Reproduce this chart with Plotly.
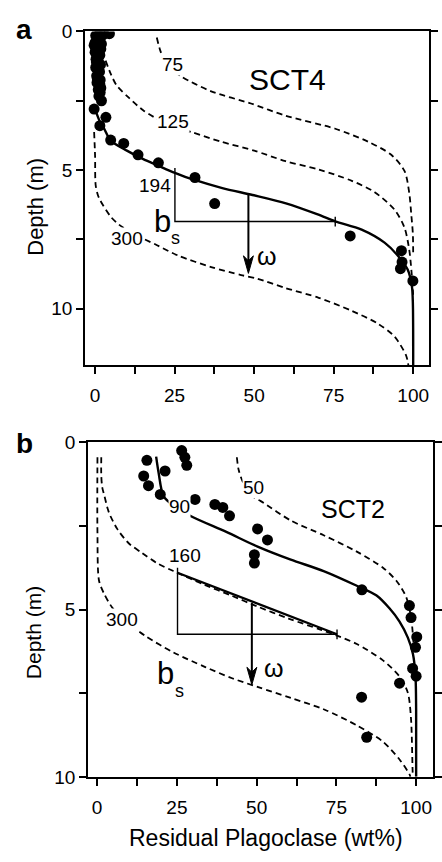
import plotly.graph_objects as go

W, H = 442, 862
FONT = "Liberation Sans, Arial, Helvetica, sans-serif"

# ---------------- Panel a : SCT4 ----------------
a_meas_plag = [1.5, 4.5, 2.8, 0.2, 1.8, 0.8, 0.0, 2.0, -0.3, 1.8, 0.6, 0.0, 1.5, 0.3, 1.0, 0.4,
               1.7, 1.2, 0.2, 1.4, 0.9, 0.5, 0.7, 1.6, 1.5, 0.6, 1.8, 1.0, 1.6, 1.2, 2.0,
               -0.3, 3.4, 1.5, 4.9, 9.0, 13.5, 19.9, 31.4, 37.6, 80.2, 96.3, 96.5, 96.0, 99.9]
a_meas_depth = [0.05, 0.08, 0.1, 0.15, 0.2, 0.3, 0.4, 0.45, 0.5, 0.63, 0.6, 0.75, 0.85, 1.0, 0.95,
                1.1, 1.2, 1.15, 1.3, 1.45, 1.34, 1.6, 1.7, 1.75, 1.9, 1.85, 2.04, 2.1, 2.2, 2.33, 2.5,
                2.8, 3.1, 3.4, 3.92, 4.04, 4.45, 4.74, 5.27, 6.21, 7.38, 7.91, 8.32, 8.56, 9.0]

# best-fit profile (omega = 194)
a_w194_plag = [0.3, 1.5, 2.8, 5.0, 10.0, 15.0, 20.0, 25.1, 31.0, 40.0, 49.5, 60.0, 70.0, 75.5,
               83.8, 91.0, 95.2, 98.3, 99.6, 99.9, 100.0]
a_w194_depth = [2.9, 3.25, 3.5, 3.95, 4.3, 4.6, 4.85, 5.1, 5.35, 5.65, 5.9, 6.2, 6.6, 6.85,
                7.15, 7.62, 8.09, 8.6, 9.2, 9.8, 12.05]
# reference profiles
a_w75_plag = [19.4, 20.5, 22.5, 27.2, 36.5, 49.0, 59.9, 75.5, 85.9, 93.1, 97.3, 98.8, 99.4, 99.9, 100.0]
a_w75_depth = [0.22, 0.69, 1.2, 1.63, 2.16, 2.6, 3.04, 3.51, 3.98, 4.45, 5.04, 5.86, 6.6, 7.3, 8.0]
a_w125_plag = [3.3, 5.0, 6.8, 10.6, 15.3, 22.0, 30.3, 39.7, 50.0, 59.9, 70.3, 80.7, 87.9, 94.2,
               97.3, 98.8, 99.5, 100.0]
a_w125_depth = [1.05, 1.55, 1.95, 2.39, 2.86, 3.3, 3.63, 3.98, 4.3, 4.68, 4.98, 5.39, 5.8, 6.44,
                7.09, 7.91, 8.7, 9.5]
a_w300_plag = [-0.3, 0.0, 0.2, 1.2, 4.9, 7.5, 12.0, 18.9, 26.2, 36.5, 45.9, 51.0, 59.9, 70.3,
               80.7, 89.0, 94.2, 97.8, 98.5]
a_w300_depth = [3.63, 4.5, 5.56, 6.0, 6.68, 6.97, 7.3, 7.68, 8.09, 8.5, 8.79, 8.92, 9.26, 9.61,
                10.08, 10.55, 11.02, 11.7, 12.05]

# ---------------- Panel b : SCT2 ----------------
b_meas_plag = [15.6, 14.6, 16.1, 21.3, 19.8, 26.5, 27.5, 28.1, 30.7, 36.9, 39.4, 41.5, 50.3,
               53.4, 49.3, 49.3, 83.0, 97.9, 98.4, 100.2, 99.8, 98.9, 100.0, 94.8, 82.9, 84.5]
b_meas_depth = [0.54, 1.01, 1.30, 0.86, 1.56, 0.25, 0.45, 0.69, 1.71, 1.86, 1.95, 2.2, 2.59,
                2.92, 3.36, 3.61, 4.41, 4.88, 5.24, 5.82, 6.13, 6.76, 6.99, 7.2, 7.62, 8.82]

b_w90_plag = [18.5, 19.3, 20.8, 24.0, 29.6, 40.5, 50.3, 60.7, 71.0, 81.4, 87.6, 91.7, 94.8,
              97.4, 99.0, 99.8, 100.0, 100.0]
b_w90_depth = [0.43, 0.93, 1.61, 1.9, 2.22, 2.68, 3.12, 3.51, 3.85, 4.29, 4.58, 4.97, 5.36,
               5.84, 6.33, 7.0, 8.0, 10.0]
b_w50_plag = [43.8, 44.4, 46.0, 49.3, 51.3, 60.7, 71.0, 81.4, 89.6, 93.8, 96.9, 98.5, 99.3]
b_w50_depth = [0.45, 0.84, 1.25, 1.66, 1.76, 2.34, 2.78, 3.27, 3.75, 4.14, 4.63, 5.3, 6.2]
b_w160_plag = [1.3, 1.3, 1.6, 2.2, 3.7, 6.3, 9.9, 14.1, 18.7, 23.9, 33.7, 42.0, 50.0, 60.0, 70.0,
               75.2, 81.4, 89.6, 94.8, 97.4, 98.4, 98.9, 99.0]
b_w160_depth = [0.45, 1.0, 1.35, 1.57, 2.1, 2.59, 3.02, 3.31, 3.61, 3.85, 4.26, 4.58, 4.9, 5.27,
                5.6, 5.78, 6.03, 6.52, 7.0, 7.49, 8.27, 9.83, 10.0]
b_w300_plag = [0.1, 0.1, 0.6, 2.2, 4.8, 9.0, 15.1, 23.9, 33.9, 42.5, 50.5, 60.7, 71.0, 81.4,
               89.6, 94.8, 97.9, 98.2]
b_w300_depth = [0.45, 2.68, 4.14, 4.53, 4.95, 5.35, 5.79, 6.28, 6.72, 7.06, 7.32, 7.64, 7.98,
                8.46, 8.95, 9.48, 9.92, 10.0]

# axis ticks
x_tickvals = [0, 12.5, 25, 37.5, 50, 62.5, 75, 87.5, 100]
x_ticktext = ["0", "", "25", "", "50", "", "75", "", "100"]
y_tickvals = [0, 2.5, 5, 7.5, 10]
y_ticktext = ["0", "", "5", "", "10"]

# panel frames in pixels (left, right, top, bottom) and data ranges
PANELS = {
    "a": dict(px=(86, 433, 22, 364), xrange=[-3.1, 105.0], yrange=[12.04, 0], xa="x", ya="y"),
    "b": dict(px=(89, 437, 443, 786), xrange=[-2.8, 105.3], yrange=[10.0, 0], xa="x2", ya="y2"),
}

# b_s triangle: (plag at top corner, depth at top corner, plag at right corner, depth of base)
a_bs = (25.1, 5.1, 75.5, 6.86)
b_bs = (25.2, 3.9, 75.2, 5.74)
# omega arrow: (plag, depth start, depth tip)
a_omega = (48.2, 5.88, 8.73)
b_omega = (48.5, 4.80, 7.25)


def scale(p):
    x0, x1, y0, y1 = PANELS[p]["px"]
    xr, yr = PANELS[p]["xrange"], PANELS[p]["yrange"]
    return (x1 - x0) / (xr[1] - xr[0]), (y1 - y0) / abs(yr[0] - yr[1])


fig = go.Figure()


def add_line(p, xs, ys, dash=None, width=2.4):
    fig.add_trace(go.Scatter(
        x=xs, y=ys, mode="lines", xaxis=PANELS[p]["xa"], yaxis=PANELS[p]["ya"],
        line=dict(color="black", width=width, dash=dash, shape="spline", smoothing=0.8),
        hoverinfo="skip", showlegend=False))


def add_poly(p, xs, ys, width=1.4, fill=False):
    fig.add_trace(go.Scatter(
        x=xs, y=ys, mode="lines", xaxis=PANELS[p]["xa"], yaxis=PANELS[p]["ya"],
        line=dict(color="black", width=width),
        fill="toself" if fill else None, fillcolor="black",
        hoverinfo="skip", showlegend=False))


def add_points(p, xs, ys):
    fig.add_trace(go.Scatter(
        x=xs, y=ys, mode="markers", xaxis=PANELS[p]["xa"], yaxis=PANELS[p]["ya"],
        marker=dict(color="black", size=11, line=dict(width=0)),
        hoverinfo="skip", showlegend=False))


DASH = "6px,4px"
# panel a curves
add_line("a", a_w75_plag, a_w75_depth, DASH, 1.8)
add_line("a", a_w125_plag, a_w125_depth, DASH, 1.8)
add_line("a", a_w300_plag, a_w300_depth, DASH, 1.8)
add_line("a", a_w194_plag, a_w194_depth, None, 2.4)
# panel b curves
add_line("b", b_w50_plag, b_w50_depth, DASH, 1.8)
add_line("b", b_w160_plag, b_w160_depth, DASH, 1.8)
add_line("b", b_w300_plag, b_w300_depth, DASH, 1.8)
add_line("b", b_w90_plag, b_w90_depth, None, 2.4)


def add_bs(p, tri, hyp=False):
    v0, d0, v1, d1 = tri
    sx, sy = scale(p)
    t = 5 / sy
    add_poly(p, [v0, v0, v1], [d0 - t, d1, d1], width=1.4)
    add_poly(p, [v1, v1], [d1 - t, d1 + t], width=1.4)
    if hyp:
        add_poly(p, [v0, v1], [d0, d1], width=2.2)


def add_arrow(p, arr):
    v, ds, dt = arr
    sx, sy = scale(p)
    L, hw = 18 / sy, 5 / sx
    add_poly(p, [v, v], [ds, dt - 0.7 * L], width=2.0)
    add_poly(p, [v, v - hw, v, v + hw, v], [dt, dt - L, dt - 0.72 * L, dt - L, dt], width=1, fill=True)


add_bs("a", a_bs)
add_bs("b", b_bs, hyp=True)
add_arrow("a", a_omega)
add_arrow("b", b_omega)

add_points("a", a_meas_plag, a_meas_depth)
add_points("b", b_meas_plag, b_meas_depth)


def axis_common():
    return dict(showline=True, linecolor="black", linewidth=2, ticks="outside",
                ticklen=7, tickwidth=1.5, tickcolor="black", showgrid=False, zeroline=False,
                tickfont=dict(family=FONT, size=19, color="black"))


layout_axes = {}
for key, p in (("", "a"), ("2", "b")):
    x0, x1, y0, y1 = PANELS[p]["px"]
    layout_axes["xaxis" + key] = dict(
        domain=[x0 / W, x1 / W], range=PANELS[p]["xrange"], anchor="y" + key,
        tickvals=x_tickvals, ticktext=x_ticktext, mirror=True, ticklabelstandoff=5,
        **axis_common())
    layout_axes["yaxis" + key] = dict(
        domain=[1 - y1 / H, 1 - y0 / H], range=PANELS[p]["yrange"], anchor="x" + key,
        tickvals=y_tickvals, ticktext=y_ticktext, mirror="ticks", **axis_common())

ann = []


def label(p, text, v, d, size=19, bg="white", **kw):
    ann.append(dict(text=text, x=v, y=d, xref=PANELS[p]["xa"], yref=PANELS[p]["ya"],
                    showarrow=False, font=dict(family=FONT, size=size, color="black"),
                    bgcolor=bg, borderpad=0, xanchor="center", yanchor="middle", **kw))


def paper_text(text, px, py, size, **kw):
    ann.append(dict(text=text, x=px / W, y=1 - py / H, xref="paper", yref="paper",
                    showarrow=False, xanchor="center", yanchor="middle",
                    font=dict(family=FONT, size=size, color="black"), **kw))


# panel a labels
label("a", "75", 24.3, 1.2)
label("a", "125", 24.5, 3.24)
label("a", "194", 18.7, 5.56)
label("a", "300", 10.1, 7.48)
label("a", "SCT4", 60.5, 1.74, size=30, bg=None)
label("a", "b", 21.3, 6.85, size=31, bg=None)
label("a", "s", 25.4, 7.45, size=18, bg=None)
label("a", "\u03c9", 53.9, 8.12, size=25, bg=None)
# panel b labels
label("b", "50", 49.1, 1.36)
label("b", "90", 25.9, 1.91)
label("b", "160", 27.6, 3.4)
label("b", "300", 7.9, 5.31)
label("b", "SCT2", 80.3, 2.0, size=25, bg=None)
label("b", "b", 21.3, 6.91, size=31, bg=None)
label("b", "s", 25.8, 7.42, size=18, bg=None)
label("b", "\u03c9", 55.3, 6.74, size=25, bg=None)

# panel letters and axis titles
paper_text("<b>a</b>", 24.5, 20, 28)
paper_text("<b>b</b>", 25, 444, 28)
paper_text("Depth (m)", 35, 202, 22, textangle=-90)
paper_text("Depth (m)", 34, 638, 21, textangle=-90)
paper_text("Residual Plagoclase (wt%)", 268, 849, 23)

fig.update_layout(
    width=W, height=H, margin=dict(l=0, r=0, t=0, b=0),
    paper_bgcolor="white", plot_bgcolor="white", showlegend=False,
    annotations=ann, **layout_axes)

fig.write_html("out.html")
